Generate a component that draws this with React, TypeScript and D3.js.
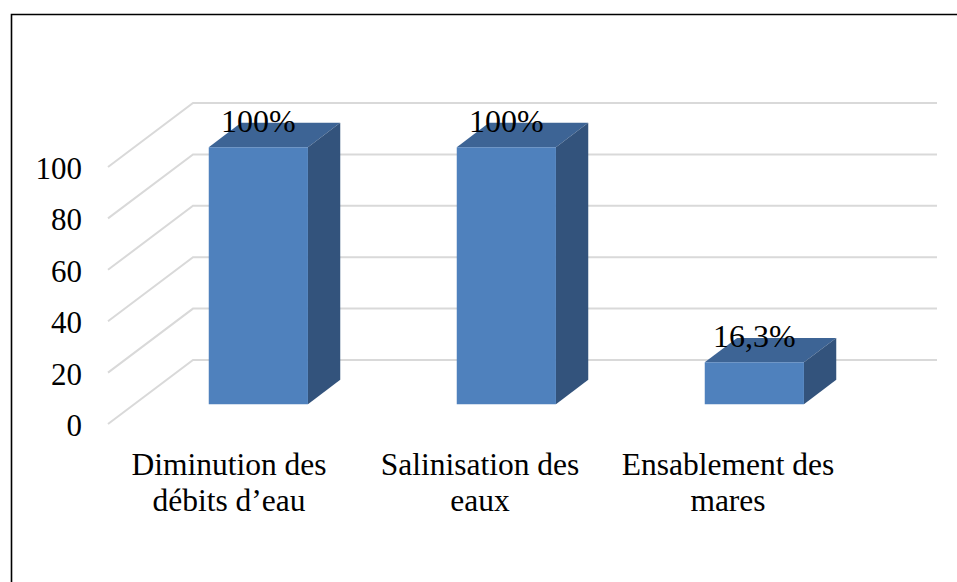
import React from "react";
import * as d3 from "d3";

const categories: string[][] = [
  ["Diminution  des", "débits d’eau"],
  ["Salinisation des", "eaux"],
  ["Ensablement des", "mares"],
];
const categoryKeys = ["dim", "sal", "ens"];
const values = [100, 100, 16.3];
const yTicks = [0, 20, 40, 60, 80, 100];

const W = 957;
const H = 582;

const FONT = '"Liberation Serif", "Times New Roman", serif';

export default function App() {
  const frontLeft = 108;
  const frontRight = 852;
  const depthX = 85;
  const depthY = -64;
  const z0 = 0.31;
  const z1 = 0.69;

  const x = d3
    .scaleBand<string>()
    .domain(categoryKeys)
    .range([frontLeft, frontRight])
    .paddingInner(0.6)
    .paddingOuter(0.3);
  const y = d3.scaleLinear().domain([0, 100]).range([424, 167]);

  const P = (px: number, py: number, z: number): [number, number] => [px + z * depthX, py + z * depthY];
  const poly = (pts: [number, number][]) => pts.map((p) => p.join(",")).join(" ");

  return (
    <svg
      width={W}
      height={H}
      style={{ position: "absolute", left: 0, top: 0, display: "block", background: "#fff" }}
    >
      <rect x={0} y={0} width={W} height={H} fill="#fff" />
      {/* frame */}
      <path d={`M11.5,${H} V14.5 H${W}`} fill="none" stroke="#000" strokeWidth={1.6} />

      {/* gridlines */}
      <g stroke="#d9d9d9" strokeWidth={2} fill="none">
        {yTicks.map((t) => {
          const yf = y(t);
          const [bx, by] = P(frontLeft, yf, 1);
          return (
            <path
              key={t}
              d={`M${frontLeft},${yf} L${bx},${by} L${frontRight + depthX},${by}`}
            />
          );
        })}
      </g>

      {/* tick labels */}
      {yTicks.map((t) => (
        <text
          key={t}
          x={82}
          y={y(t) + 12}
          textAnchor="end"
          fill="#000"
          style={{ fontFamily: FONT, fontSize: "31px" }}
        >
          {t}
        </text>
      ))}

      {/* bars */}
      {values.map((v, i) => {
        const k = categoryKeys[i];
        const xl = x(k)!;
        const xr = xl + x.bandwidth();
        const yt = y(v);
        const yb = y(0);
        const front: [number, number][] = [P(xl, yt, z0), P(xr, yt, z0), P(xr, yb, z0), P(xl, yb, z0)];
        const top: [number, number][] = [P(xl, yt, z0), P(xr, yt, z0), P(xr, yt, z1), P(xl, yt, z1)];
        const side: [number, number][] = [P(xr, yt, z0), P(xr, yt, z1), P(xr, yb, z1), P(xr, yb, z0)];
        return (
          <g key={k}>
            <polygon points={poly(top)} fill="#3d6495" />
            <polygon points={poly(side)} fill="#33537c" />
            <polygon points={poly(front)} fill="#4f81bd" />
          </g>
        );
      })}

      {/* data labels */}
      {values.map((v, i) => {
        const k = categoryKeys[i];
        const cx = x(k)! + x.bandwidth() / 2;
        const [px, py] = P(cx, y(v), z0);
        return (
          <text
            key={k}
            x={px}
            y={py - 15}
            textAnchor="middle"
            fill="#000"
            style={{ fontFamily: FONT, fontSize: "32px" }}
          >
            {`${String(v).replace(".", ",")}%`}
          </text>
        );
      })}

      {/* category labels */}
      {categories.map((lines, i) => {
        const k = categoryKeys[i];
        const cx = x(k)! + x.bandwidth() / 2 - (i === 0 ? 3 : 0);
        return (
          <text
            key={k}
            textAnchor="middle"
            fill="#000"
            style={{ fontFamily: FONT, fontSize: "31.5px" }}
          >
            {lines.map((ln, j) => (
              <tspan key={j} x={cx} y={475 + j * 36}>
                {ln}
              </tspan>
            ))}
          </text>
        );
      })}
    </svg>
  );
}
